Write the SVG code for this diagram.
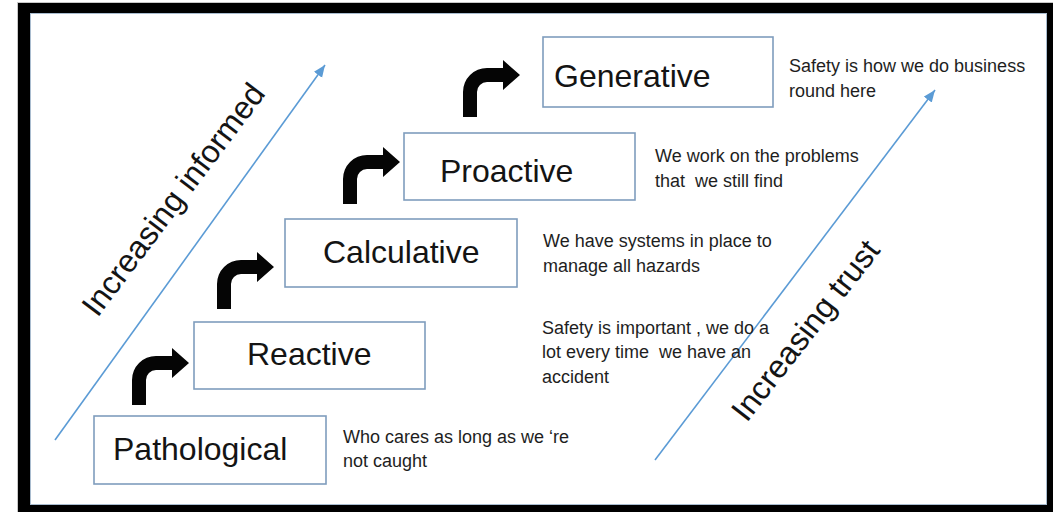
<svg xmlns="http://www.w3.org/2000/svg" width="1053" height="512" viewBox="0 0 1053 512">
<style>
.box{fill:#fff;stroke:#7f9dbd;stroke-width:1.6}
.lbl{font-family:"Liberation Sans",Arial,sans-serif;font-size:32px;fill:#141414}
.desc{font-family:"Liberation Sans",Arial,sans-serif;font-size:18px;fill:#1e1e1e}
.axis{stroke:#5b9bd5;stroke-width:1.6;fill:none}
.bent{fill:#050505}
</style>
<defs>
<marker id="ah" markerUnits="userSpaceOnUse" markerWidth="14" markerHeight="11" refX="12" refY="5" orient="auto">
<path d="M0,0 L12,5 L0,10 z" fill="#5b9bd5"/>
</marker>
<path id="bentArrow" d="M0,0 L0,-25 A24,24 0 0 1 24,-49 L40,-49 L40,-57 L57,-42 L40,-27 L40,-35 L24,-35 A10,10 0 0 0 14,-25 L14,0 Z"/>
</defs>
<rect x="0" y="0" width="1053" height="512" fill="#fff"/>
<g id="frame">
<rect x="17.5" y="2.5" width="1036" height="510" fill="none" stroke="#c8c8c8" stroke-width="1"/>
<path fill-rule="evenodd" fill="#000" d="M18,3 H1053 V512 H18 Z M30,13 V505 H1047 V13 Z"/>
<rect x="30.5" y="13.5" width="1016" height="491" fill="none" stroke="#a9bccf" stroke-width="1"/>
</g>
<g id="connectors">
<line class="axis" x1="55" y1="440" x2="325" y2="65" marker-end="url(#ah)"/>
<line class="axis" x1="655" y1="460" x2="935" y2="90" marker-end="url(#ah)"/>
<use href="#bentArrow" class="bent" transform="translate(132,405)"/>
<use href="#bentArrow" class="bent" transform="translate(217,309)"/>
<use href="#bentArrow" class="bent" transform="translate(343,204)"/>
<use href="#bentArrow" class="bent" transform="translate(463,117)"/>
</g>
<g id="axis-informed">
<text class="lbl" text-anchor="middle" transform="translate(182,206) rotate(-53)">Increasing informed</text>
</g>
<g id="axis-trust">
<text class="lbl" text-anchor="middle" transform="translate(814,337) rotate(-52)">Increasing trust</text>
</g>
<g id="pathological">
<rect class="box" x="94" y="416" width="232" height="68"/>
<text class="lbl" x="113" y="460">Pathological</text>
<text class="desc" x="343" y="443">Who cares as long as we ‘re</text>
<text class="desc" x="343" y="467">not caught</text>
</g>
<g id="reactive">
<rect class="box" x="194" y="322" width="231" height="67"/>
<text class="lbl" x="247" y="365">Reactive</text>
<text class="desc" x="542" y="334">Safety is important , we do a</text>
<text class="desc" x="542" y="358" xml:space="preserve">lot every time  we have an</text>
<text class="desc" x="542" y="383">accident</text>
</g>
<g id="calculative">
<rect class="box" x="285" y="219" width="232" height="68"/>
<text class="lbl" x="323" y="263">Calculative</text>
<text class="desc" x="543" y="247">We have systems in place to</text>
<text class="desc" x="543" y="272">manage all hazards</text>
</g>
<g id="proactive">
<rect class="box" x="404" y="133" width="231" height="67"/>
<text class="lbl" x="440" y="182">Proactive</text>
<text class="desc" x="655" y="162">We work on the problems</text>
<text class="desc" x="655" y="187" xml:space="preserve">that  we still find</text>
</g>
<g id="generative">
<rect class="box" x="543" y="37" width="230" height="70"/>
<text class="lbl" x="554" y="87">Generative</text>
<text class="desc" x="789" y="72">Safety is how we do business</text>
<text class="desc" x="789" y="97">round here</text>
</g>
</svg>
